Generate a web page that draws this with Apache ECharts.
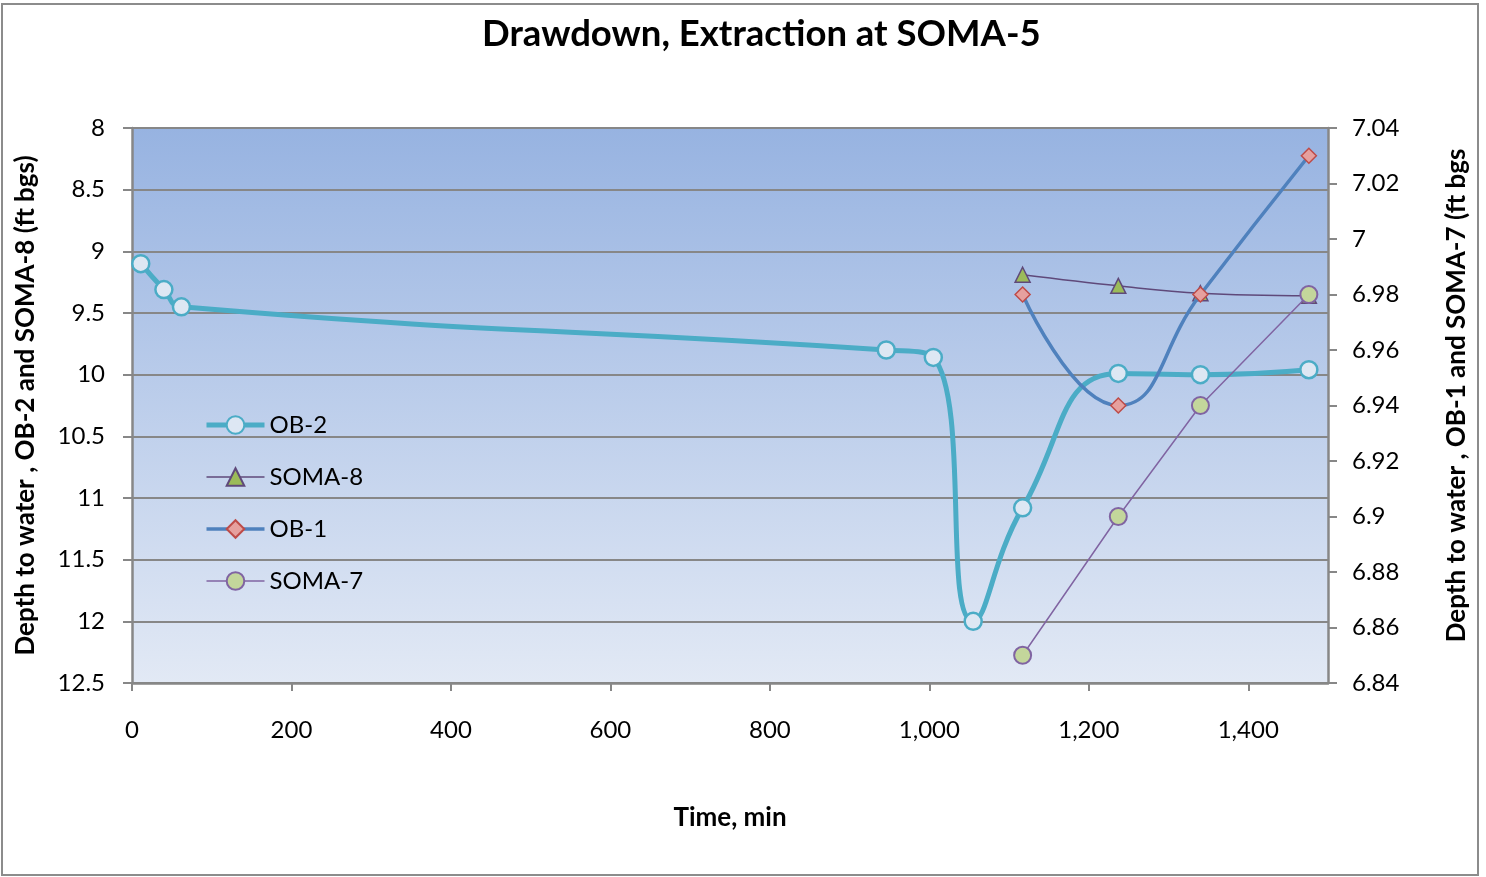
<!DOCTYPE html>
<html>
<head>
<meta charset="utf-8">
<script src="https://cdn.jsdelivr.net/npm/echarts@6/dist/echarts.min.js"></script>
<style>
html,body{margin:0;padding:0;background:#fff;}
#chart{width:1486px;height:877px;}
</style>
</head>
<body>
<div id="chart"></div>
<script>
// Data (time in min, depth in ft bgs)
const seriesNames = ['OB-2', 'SOMA-8', 'OB-1', 'SOMA-7'];
const ob2Time  = [11, 40, 62, 946, 1005, 1055, 1117, 1237, 1340, 1476];
const ob2Depth = [9.10, 9.31, 9.45, 9.80, 9.86, 12.0, 11.08, 9.99, 10.0, 9.96];
const soma8Time  = [1117, 1237, 1340, 1476];
const soma8Depth = [9.19, 9.28, 9.34, 9.36];
const ob1Time  = [1117, 1237, 1340, 1476];
const ob1Depth = [6.98, 6.94, 6.98, 7.03];
const soma7Time  = [1117, 1237, 1340, 1476];
const soma7Depth = [6.85, 6.90, 6.94, 6.98];

const titleText = 'Drawdown, Extraction at SOMA-5';
const xTitle = 'Time, min';
const leftTitle = 'Depth to water , OB-2 and SOMA-8 (ft bgs)';
const rightTitle = 'Depth to water , OB-1 and SOMA-7 (ft bgs';

const pairs = (xs, ys) => xs.map((x, i) => [x, ys[i]]);
const FONT = 'Lato, "Open Sans", sans-serif';
const AXIS_GRAY = '#878787';

const chart = echarts.init(document.getElementById('chart'), null, {renderer: 'canvas'});
chart.setOption({
  backgroundColor: '#ffffff',
  animation: false,
  textStyle: {fontFamily: FONT, color: '#000'},
  graphic: [{
    type: 'rect', silent: true, z: -10,
    shape: {x: 2, y: 4, width: 1476, height: 871},
    style: {fill: 'none', stroke: '#8c8c8c', lineWidth: 2}
  }],
  title: {
    text: titleText, left: 477, top: 11,
    textStyle: {fontFamily: FONT, fontWeight: 'bold', fontSize: 36.5, color: '#000'}
  },
  legend: {
    orient: 'vertical', left: 204, top: 411, padding: 0,
    itemWidth: 58, itemHeight: 22, itemGap: 24,
    lineStyle: {width: 'inherit'},
    data: seriesNames,
    textStyle: {fontFamily: FONT, fontSize: 24, lineHeight: 28, color: '#000'}
  },
  grid: {
    left: 132, right: 158, top: 128, bottom: 194,
    show: true, borderWidth: 0,
    backgroundColor: new echarts.graphic.LinearGradient(0, 0, 0, 1, [
      {offset: 0, color: '#97b3e1'},
      {offset: 1, color: '#e2e9f5'}
    ])
  },
  xAxis: {
    type: 'value', min: 0, max: 1500, interval: 200,
    name: xTitle, nameLocation: 'middle', nameGap: 122,
    nameTextStyle: {fontFamily: FONT, fontWeight: 'bold', fontSize: 26, color: '#000'},
    axisLine: {show: true, lineStyle: {color: AXIS_GRAY, width: 2.5}},
    axisTick: {show: true, length: 8, lineStyle: {color: AXIS_GRAY, width: 2}},
    axisLabel: {
      fontFamily: FONT, fontSize: 24, color: '#000', margin: 35, showMaxLabel: false,
      formatter: v => v.toLocaleString('en-US')
    },
    splitLine: {show: false}
  },
  yAxis: [{
    type: 'value', inverse: true, min: 8, max: 12.5, interval: 0.5, position: 'left',
    name: leftTitle, nameLocation: 'middle', nameGap: 93,
    nameTextStyle: {fontFamily: FONT, fontWeight: 'bold', fontSize: 26, color: '#000'},
    axisLine: {show: true, lineStyle: {color: AXIS_GRAY, width: 2.5}},
    axisTick: {show: true, length: 9, lineStyle: {color: AXIS_GRAY, width: 2}},
    axisLabel: {fontFamily: FONT, fontSize: 24, color: '#000', margin: 27},
    splitLine: {show: true, lineStyle: {color: AXIS_GRAY, width: 2}}
  }, {
    type: 'value', inverse: false, min: 6.84, max: 7.04, interval: 0.02, position: 'right',
    name: rightTitle, nameLocation: 'middle', nameGap: 116,
    nameTextStyle: {fontFamily: FONT, fontWeight: 'bold', fontSize: 26, color: '#000', padding: [0,0,0,20]},
    axisLine: {show: true, lineStyle: {color: AXIS_GRAY, width: 2.5}},
    axisTick: {show: true, length: 9, lineStyle: {color: AXIS_GRAY, width: 2}},
    axisLabel: {fontFamily: FONT, fontSize: 24, color: '#000', margin: 24,
      formatter: v => String(parseFloat(v.toFixed(4)))},
    splitLine: {show: false}
  }],
  series: [{
    name: 'OB-2', type: 'line', yAxisIndex: 0, smooth: 0.5,
    data: pairs(ob2Time, ob2Depth),
    symbol: 'circle', symbolSize: 17,
    lineStyle: {color: '#4bacc6', width: 5},
    itemStyle: {color: '#dde7f3', borderColor: '#4bacc6', borderWidth: 2.5},
    z: 2
  }, {
    name: 'SOMA-8', type: 'line', yAxisIndex: 0, smooth: 0.4,
    data: pairs(soma8Time, soma8Depth),
    symbol: 'triangle', symbolSize: 15,
    lineStyle: {color: '#5f497a', width: 1.5},
    itemStyle: {color: '#9bbb59', borderColor: '#5f497a', borderWidth: 1.5},
    z: 3
  }, {
    name: 'OB-1', type: 'line', yAxisIndex: 1, smooth: 0.5,
    data: pairs(ob1Time, ob1Depth),
    symbol: 'diamond', symbolSize: 15,
    lineStyle: {color: '#4f81bd', width: 3.5},
    itemStyle: {color: '#e6a09e', borderColor: '#be4b48', borderWidth: 1.5},
    z: 4
  }, {
    name: 'SOMA-7', type: 'line', yAxisIndex: 1, smooth: false,
    data: pairs(soma7Time, soma7Depth),
    symbol: 'circle', symbolSize: 17,
    lineStyle: {color: '#8064a2', width: 1.5},
    itemStyle: {color: '#c3d69b', borderColor: '#8064a2', borderWidth: 2},
    z: 5
  }]
});
</script>
</body>
</html>
